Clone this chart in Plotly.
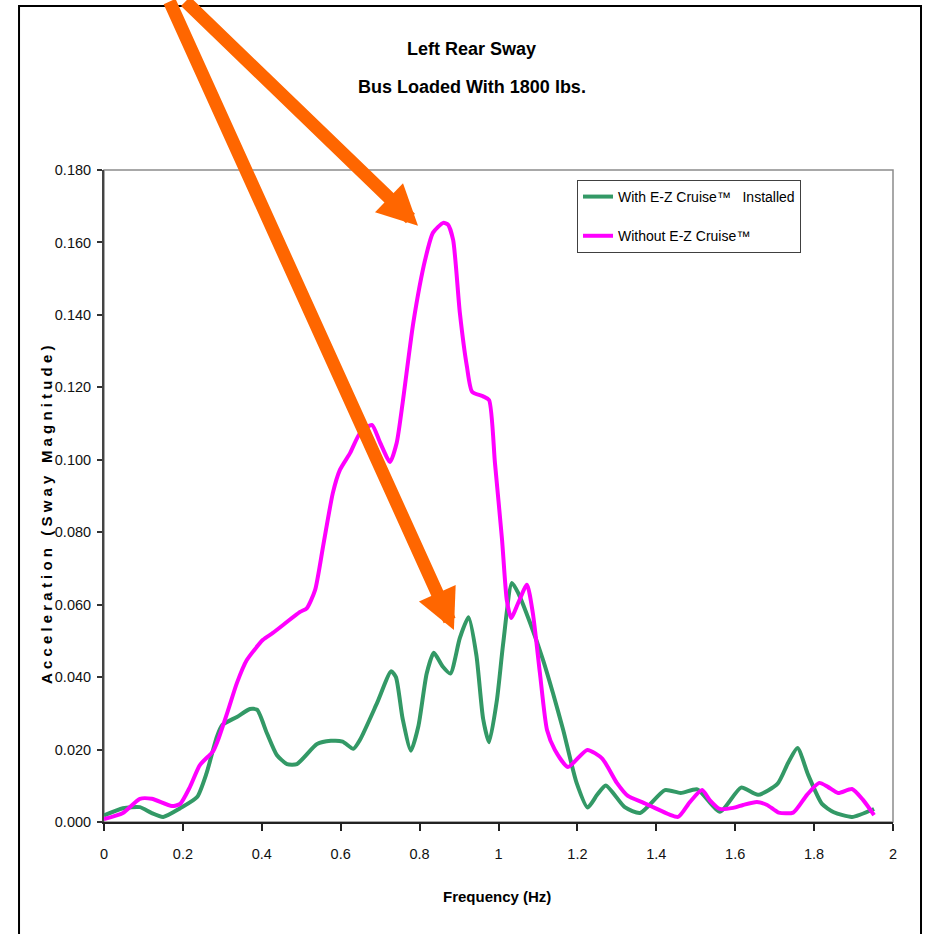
import plotly.graph_objects as go

# ---------------- data ----------------
freq_with = [0.000, 0.048, 0.091, 0.120, 0.150, 0.193, 0.236, 0.260, 0.286, 0.300,
             0.337, 0.370, 0.388, 0.413, 0.438, 0.464, 0.489, 0.540, 0.575, 0.605,
             0.632, 0.649, 0.692, 0.728, 0.740, 0.757, 0.778, 0.797, 0.818, 0.836,
             0.858, 0.878, 0.902, 0.924, 0.944, 0.961, 0.976, 0.996, 1.012, 1.034,
             1.050, 1.080, 1.113, 1.138, 1.164, 1.198, 1.226, 1.250, 1.272, 1.320,
             1.359, 1.422, 1.462, 1.504, 1.561, 1.615, 1.658, 1.707, 1.734, 1.758,
             1.785, 1.820, 1.850, 1.896, 1.952]
acc_with = [0.0018, 0.0038, 0.0041, 0.0025, 0.0014, 0.0038, 0.0069, 0.0135, 0.0235, 0.0268,
            0.0290, 0.0312, 0.0310, 0.0245, 0.0185, 0.0160, 0.0160, 0.0215, 0.0224, 0.0222,
            0.0202, 0.0227, 0.0328, 0.0416, 0.0400, 0.0285, 0.0197, 0.0265, 0.0410, 0.0467,
            0.0430, 0.0410, 0.0508, 0.0565, 0.0460, 0.0285, 0.0220, 0.0337, 0.0494, 0.0660,
            0.0632, 0.0550, 0.0447, 0.0356, 0.0254, 0.0108, 0.0040, 0.0075, 0.0101, 0.0041,
            0.0025, 0.0088, 0.0080, 0.0090, 0.0028, 0.0095, 0.0075, 0.0105, 0.0163, 0.0204,
            0.0130, 0.0050, 0.0027, 0.0014, 0.0036]

freq_without = [0.000, 0.048, 0.091, 0.121, 0.172, 0.193, 0.218, 0.243, 0.277, 0.289,
                0.315, 0.337, 0.362, 0.403, 0.428, 0.497, 0.514, 0.535, 0.556, 0.580,
                0.598, 0.624, 0.649, 0.679, 0.700, 0.725, 0.742, 0.758, 0.784, 0.814,
                0.834, 0.860, 0.872, 0.885, 0.902, 0.920, 0.933, 0.961, 0.976, 0.991,
                1.009, 1.021, 1.032, 1.050, 1.072, 1.087, 1.105, 1.123, 1.143, 1.176,
                1.225, 1.263, 1.300, 1.328, 1.364, 1.392, 1.455, 1.485, 1.516, 1.536,
                1.561, 1.595, 1.620, 1.655, 1.681, 1.710, 1.747, 1.782, 1.813, 1.835,
                1.861, 1.896, 1.924, 1.952]
acc_without = [0.0008, 0.0025, 0.0064, 0.0064, 0.0044, 0.0050, 0.0097, 0.0157, 0.0196, 0.0226,
               0.0310, 0.0384, 0.0447, 0.0503, 0.0522, 0.0580, 0.0590, 0.0640, 0.0765, 0.0908,
               0.0972, 0.1019, 0.1074, 0.1096, 0.1047, 0.0994, 0.1047, 0.1165, 0.1378, 0.1552,
               0.1627, 0.1654, 0.1649, 0.1607, 0.1406, 0.1257, 0.1188, 0.1175, 0.1165, 0.0991,
               0.0779, 0.0613, 0.0563, 0.0605, 0.0655, 0.0577, 0.0411, 0.0254, 0.0199, 0.0152,
               0.0199, 0.0175, 0.0108, 0.0072, 0.0055, 0.0041, 0.0014, 0.0055, 0.0088, 0.0060,
               0.0036, 0.0039, 0.0047, 0.0055, 0.0047, 0.0026, 0.0026, 0.0075, 0.0108, 0.0097,
               0.0080, 0.0091, 0.0061, 0.0019]

series_names = ["With E-Z Cruise\u2122\u00a0\u00a0\u00a0Installed", "Without E-Z Cruise\u2122"]
title_lines = ["Left Rear Sway", "Bus Loaded With 1800 lbs."]
x_title = "Frequency (Hz)"
y_title = "Acceleration (Sway Magnitude)"
x_ticks = [0, 0.2, 0.4, 0.6, 0.8, 1, 1.2, 1.4, 1.6, 1.8, 2]
y_ticks = [0, 0.02, 0.04, 0.06, 0.08, 0.10, 0.12, 0.14, 0.16, 0.18]
# arrow tips (data units) pointing at the two peaks
arrow_tips = [(0.796, 0.1646), (0.887, 0.0530)]

# ---------------- style ----------------
FONT = "Liberation Sans Narrow, Arial Narrow, Liberation Sans, Arial, sans-serif"
GREEN = "#339966"
MAGENTA = "#FF00FF"
ORANGE = "#FF6600"

fig = go.Figure()
fig.add_trace(go.Scatter(x=freq_with, y=acc_with, mode="lines", name=series_names[0],
                         legendgroup="a",
                         line=dict(color=GREEN, width=4, shape="spline", smoothing=0.6)))
fig.add_trace(go.Scatter(x=freq_without, y=acc_without, mode="lines", name=series_names[1],
                         legendgroup="b",
                         line=dict(color=MAGENTA, width=4, shape="spline", smoothing=0.6)))

spaced_y = "\u00a0".join(list(y_title)).replace("\u00a0 \u00a0", "\u00a0\u00a0\u00a0")

annotations = [
    dict(text="<b>%s</b>" % title_lines[0], xref="paper", yref="paper", x=0.4664, y=1.1856,
         xanchor="center", yanchor="middle", showarrow=False,
         font=dict(family=FONT, size=18, color="#000")),
    dict(text="<b>%s</b>" % title_lines[1], xref="paper", yref="paper", x=0.4664, y=1.1273,
         xanchor="center", yanchor="middle", showarrow=False,
         font=dict(family=FONT, size=18, color="#000")),
    dict(text="<b>%s</b>" % x_title, xref="paper", yref="paper", x=0.498, y=-0.115,
         xanchor="center", yanchor="middle", showarrow=False,
         font=dict(family=FONT, size=15, color="#000")),
    dict(text="<b>%s</b>" % spaced_y, xref="paper", yref="paper", x=-0.0722, y=0.4709,
         xanchor="center", yanchor="middle", showarrow=False, textangle=-90,
         font=dict(family=FONT, size=15, color="#000")),
]
arrow_offsets = [(-234, -246), (-285, -650)]
for (tx, ty), (ax, ay) in zip(arrow_tips, arrow_offsets):
    annotations.append(dict(text="", x=tx, y=ty, xref="x", yref="y", ax=ax, ay=ay,
                            showarrow=True, arrowhead=2, arrowsize=0.62, arrowwidth=13,
                            arrowcolor=ORANGE, standoff=0))

fig.update_layout(
    width=930, height=934,
    margin=dict(l=104, r=37, t=170, b=112),
    paper_bgcolor="white", plot_bgcolor="white",
    showlegend=True,
    legend=dict(x=0.5995, y=0.9847, xanchor="left", yanchor="top",
                bgcolor="white", bordercolor="#404040", borderwidth=1,
                font=dict(family=FONT, size=14, color="#000"),
                traceorder="grouped", tracegroupgap=18, itemwidth=30),
    xaxis=dict(range=[0, 2], tickvals=x_ticks, ticks="outside", ticklen=7, tickwidth=1.5,
               tickcolor="#222", showline=True, linecolor="#222", linewidth=2,
               showgrid=False, zeroline=False, ticklabelstandoff=11,
               tickfont=dict(family=FONT, size=14.5, color="#111")),
    yaxis=dict(range=[0, 0.18], tickvals=y_ticks, tickformat=".3f", ticks="outside",
               ticklen=5, tickwidth=1.5, tickcolor="#333", showline=True, linecolor="#444",
               linewidth=2, showgrid=False, zeroline=False, ticklabelstandoff=3,
               tickfont=dict(family=FONT, size=14.5, color="#111")),
    annotations=annotations,
    shapes=[
        dict(type="rect", xref="paper", yref="paper", x0=0, x1=1, y0=0, y1=1,
             line=dict(color="#8c8c8c", width=1.5), layer="below"),
        dict(type="rect", xref="paper", yref="paper", x0=-0.1077, x1=1.0355, y0=-0.19, y1=1.2515,
             line=dict(color="#000", width=2), layer="below"),
    ],
)

fig.write_html("out.html", config={"displayModeBar": False},
               post_script="document.body.style.margin='0';")
